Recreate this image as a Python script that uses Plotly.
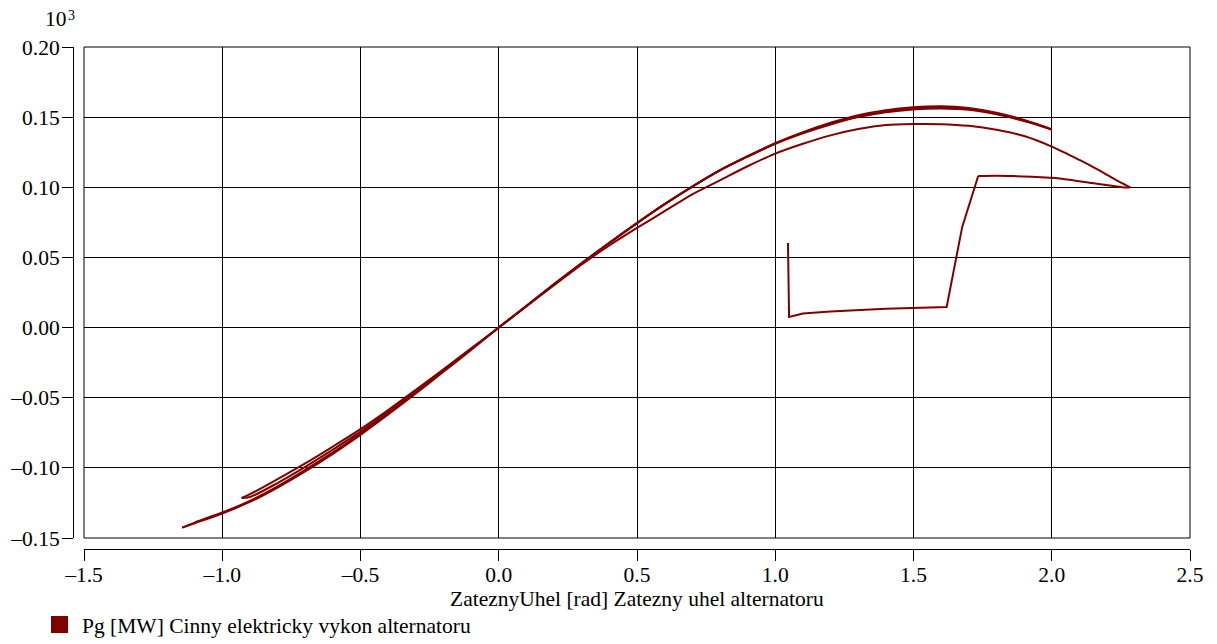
import plotly.graph_objects as go

# --- data (values in 10^3 MW vs rad) ---
start_x = [1.046, 1.048, 1.050, 1.10, 1.20, 1.40, 1.62, 1.676, 1.734]
start_y = [0.0603, 0.030, 0.0076, 0.0100, 0.0115, 0.0135, 0.0147, 0.0716, 0.1080]

tip_x = [1.734, 1.80, 1.86, 1.93, 2.00, 2.07, 2.145, 2.21, 2.268, 2.284]
tip_y = [0.1080, 0.1082, 0.1080, 0.1075, 0.1068, 0.1052, 0.1030, 0.1013, 0.0998, 0.1000]

lower_x = [2.284, 2.25, 2.20, 2.15, 2.10, 2.00, 1.90, 1.80, 1.70, 1.60, 1.50, 1.40, 1.30, 1.20,
           1.10, 1.00, 0.90, 0.80, 0.70, 0.60, 0.50, 0.40, 0.30, 0.20, 0.10, 0.00,
           -0.10, -0.20, -0.30, -0.40, -0.50, -0.60, -0.70, -0.80, -0.90, -1.00, -1.10, -1.145]
lower_y = [0.1000, 0.1033, 0.1089, 0.1144, 0.1195, 0.1290, 0.1365, 0.1410, 0.1438, 0.1450,
           0.1451, 0.1444, 0.1415, 0.1370, 0.1310, 0.1240, 0.1150, 0.1050, 0.0950, 0.0830,
           0.0710, 0.0585, 0.0450, 0.0302, 0.0152, 0.0000,
           -0.0160, -0.0315, -0.0470, -0.0620, -0.0765, -0.0900, -0.1025, -0.1140, -0.1243,
           -0.1325, -0.1395, -0.1426]

swing1_x = [-1.145, -1.10, -1.00, -0.90, -0.80, -0.70, -0.60, -0.50, -0.40, -0.30, -0.20, -0.10,
            0.00, 0.10, 0.20, 0.30, 0.40, 0.50, 0.60, 0.70, 0.80, 0.90, 1.00, 1.10, 1.20, 1.30,
            1.40, 1.50, 1.60, 1.70, 1.80, 1.90, 2.00]
swing1_y = [-0.1426, -0.1390, -0.1318, -0.1235, -0.1132, -0.1015, -0.0890, -0.0755, -0.0610,
            -0.0460, -0.0310, -0.0155, 0.0000, 0.0155, 0.0310, 0.0460, 0.0605, 0.0745, 0.0880,
            0.1005, 0.1120, 0.1218, 0.1310, 0.1385, 0.1448, 0.1500, 0.1535, 0.1555, 0.1562,
            0.1552, 0.1520, 0.1472, 0.1412]

swing2_x = [2.00, 1.90, 1.80, 1.70, 1.60, 1.50, 1.40, 1.30, 1.20, 1.10, 1.00, 0.90, 0.80, 0.70,
            0.60, 0.50, 0.40, 0.30, 0.20, 0.10, 0.00, -0.10, -0.20, -0.30, -0.40, -0.50,
            -0.60, -0.70, -0.80, -0.90, -0.93]
swing2_y = [0.1412, 0.1480, 0.1532, 0.1565, 0.1577, 0.1570, 0.1550, 0.1514, 0.1460, 0.1393,
            0.1315, 0.1222, 0.1122, 0.1005, 0.0880, 0.0745, 0.0603, 0.0458, 0.0308, 0.0153,
            0.0000, -0.0148, -0.0297, -0.0444, -0.0588, -0.0724, -0.0848, -0.0968, -0.1080,
            -0.1188, -0.1215]

swing3_x = [-0.93, -0.90, -0.80, -0.70, -0.60, -0.50, -0.40, -0.30, -0.20, -0.10, 0.00, 0.10,
            0.20, 0.30, 0.40, 0.50, 0.60, 0.70, 0.80, 0.90, 1.00, 1.10, 1.20, 1.30, 1.40, 1.50,
            1.60, 1.70, 1.80, 1.90, 1.99]
swing3_y = [-0.1215, -0.1208, -0.1108, -0.0993, -0.0870, -0.0742, -0.0602, -0.0456, -0.0306,
            -0.0153, 0.0000, 0.0154, 0.0309, 0.0459, 0.0604, 0.0745, 0.0880, 0.1005, 0.1121,
            0.1220, 0.1312, 0.1388, 0.1452, 0.1505, 0.1541, 0.1561, 0.1568, 0.1558, 0.1526,
            0.1476, 0.1422]

x_ticks = [-1.5, -1.0, -0.5, 0.0, 0.5, 1.0, 1.5, 2.0, 2.5]
y_ticks = [-0.15, -0.10, -0.05, 0.00, 0.05, 0.10, 0.15, 0.20]

series_name = "Pg [MW] Cinny elektricky vykon alternatoru"
x_title = "ZateznyUhel [rad] Zatezny uhel alternatoru"

# --- layout geometry (window pixels); the page body adds an 8px margin ---
BODY = 8
WIN_W, WIN_H = 1217, 644
W, H = WIN_W - BODY, WIN_H - BODY
BOX_L, BOX_R, BOX_T, BOX_B = 84, 1190, 47, 538   # plot frame in window px
AX_X, AX_Y = 73, 549                             # offset axis lines in window px
ML = AX_X - BODY
MT = BOX_T - BODY
MR = WIN_W - BOX_R
MB = WIN_H - AX_Y
PW = W - ML - MR
PH = H - MT - MB
FONT = "Liberation Serif"
FS = 21.5
COLOR = "#800000"

fig = go.Figure()
segments = [
    (start_x, start_y, "linear"),
    (tip_x, tip_y, "spline"),
    (lower_x, lower_y, "spline"),
    (swing1_x, swing1_y, "spline"),
    (swing2_x, swing2_y, "spline"),
    (swing3_x, swing3_y, "spline"),
]
for sx, sy, shape in segments:
    fig.add_trace(go.Scatter(x=sx, y=sy, mode="lines",
                             line=dict(color=COLOR, width=2, shape=shape, smoothing=0.8),
                             showlegend=False, name=series_name))

fig.update_layout(
    width=W, height=H,
    margin=dict(l=ML, r=MR, t=MT, b=MB, pad=0, autoexpand=False),
    paper_bgcolor="white", plot_bgcolor="white",
    font=dict(family=FONT, size=FS, color="black"),
    xaxis=dict(domain=[(BOX_L - AX_X) / PW, 1], range=[-1.5, 2.5], tickvals=x_ticks,
               ticktext=[("\u2013" if v < 0 else "") + f"{abs(v):.1f}" for v in x_ticks],
               anchor="free", position=0, automargin=False,
               showline=True, linecolor="black", linewidth=1,
               ticks="outside", ticklen=11, tickcolor="black", tickwidth=1,
               ticklabelstandoff=-5,
               showgrid=True, gridcolor="black", gridwidth=1, zeroline=False),
    yaxis=dict(domain=[(AX_Y - BOX_B) / PH, 1], range=[-0.15, 0.20], tickvals=y_ticks,
               ticktext=[("\u2013" if v < 0 else "") + f"{abs(v):.2f}" for v in y_ticks],
               anchor="free", position=0, automargin=False,
               showline=True, linecolor="black", linewidth=1,
               ticks="outside", ticklen=11, tickcolor="black", tickwidth=1,
               ticklabelstandoff=-2,
               showgrid=True, gridcolor="black", gridwidth=1, zeroline=False),
)

# plot frame
fig.add_shape(type="rect", xref="x domain", yref="y domain", x0=0, x1=1, y0=0, y1=1,
              line=dict(color="black", width=1), layer="above")


def px_x(p):
    return (p - AX_X) / PW


def px_y(p):
    return (AX_Y - p) / PH


# 10^3 multiplier
fig.add_annotation(x=px_x(68), y=px_y(32), xref="paper", yref="paper",
                   text="10", showarrow=False, xanchor="right", yanchor="bottom",
                   font=dict(family=FONT, size=FS), borderpad=0)
fig.add_annotation(x=px_x(67), y=px_y(24), xref="paper", yref="paper",
                   text="3", showarrow=False, xanchor="left", yanchor="bottom",
                   font=dict(family=FONT, size=14), borderpad=0)
# x title
fig.add_annotation(x=px_x(637), y=px_y(599), xref="paper", yref="paper",
                   text=x_title, showarrow=False, xanchor="center", yanchor="middle",
                   font=dict(family=FONT, size=FS))
# legend
fig.add_shape(type="rect", xref="paper", yref="paper",
              x0=px_x(51), x1=px_x(68), y0=px_y(633), y1=px_y(616),
              fillcolor=COLOR, line=dict(width=0))
fig.add_annotation(x=px_x(80), y=px_y(626), xref="paper", yref="paper",
                   text=series_name, showarrow=False, xanchor="left", yanchor="middle",
                   font=dict(family=FONT, size=FS))

fig.write_html("out.html")
